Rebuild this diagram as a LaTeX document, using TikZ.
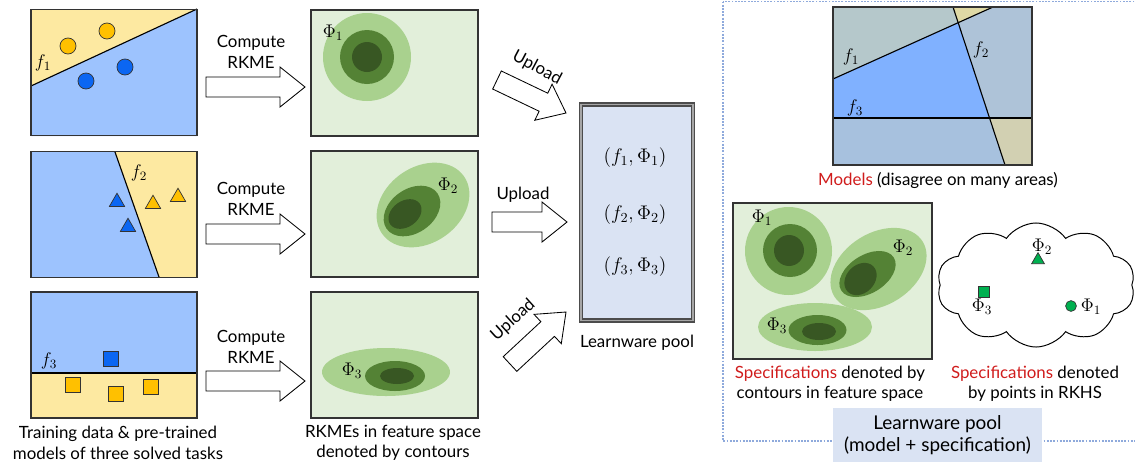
\documentclass[tikz,border=0pt]{standalone}
\usepackage{fix-cm}
\usepackage[no-math]{fontspec}
\setmainfont{Lato}
\usetikzlibrary{calc,shapes.geometric,shapes.symbols}
\definecolor{datayellow}{HTML}{FDE9A1}
\definecolor{datablue}{HTML}{9DC3FE}
\definecolor{ptyellow}{HTML}{FFC000}
\definecolor{ptblue}{HTML}{0B66F2}
\definecolor{ptgreen}{HTML}{00B050}
\definecolor{featbg}{HTML}{E2EFDA}
\definecolor{contlight}{HTML}{A9D18E}
\definecolor{contmid}{HTML}{548235}
\definecolor{contdark}{HTML}{385723}
\definecolor{poolbg}{HTML}{DAE3F3}
\definecolor{specred}{HTML}{D01C1C}
\definecolor{dotblue}{HTML}{8FAADC}
\definecolor{rgA}{HTML}{B5C8CB}
\definecolor{rgB}{HTML}{DFD9A5}
\definecolor{rgC}{HTML}{80B1FF}
\definecolor{rgD}{HTML}{AEC3D8}
\definecolor{rgE}{HTML}{A7C1DE}
\definecolor{rgF}{HTML}{D2D0B2}
\newcommand{\blockarrow}[2]{%
    \coordinate (bh) at ($(#2)!0.625cm!(#1)$);
    \draw[bigarrow] ($(#1)!0.25cm!90:(#2)$) -- ($(bh)!0.25cm!-90:(#1)$)
        -- ($(bh)!0.5cm!-90:(#1)$) -- (#2) -- ($(bh)!0.5cm!90:(#1)$)
        -- ($(bh)!0.25cm!90:(#1)$) -- ($(#1)!0.25cm!-90:(#2)$) -- cycle;}
\begin{document}
\begin{tikzpicture}[x=0.025cm,y=-0.025cm,
        every node/.style={font=\fontsize{12}{14.5}\selectfont},
        mlbl/.style={font=\fontsize{13}{15}\selectfont},
        caption/.style={align=center},
        panel/.style={draw=black!80,line width=0.8pt,minimum width=4.15cm,minimum height=3.15cm,inner sep=0pt},
        featpanel/.style={panel,fill=featbg,minimum width=4.175cm},
        sepline/.style={black,line width=0.8pt},
        dot/.style={circle,draw=black!80,line width=0.5pt,minimum size=0.4cm,inner sep=0pt},
        tri/.style={regular polygon,regular polygon sides=3,draw=black!80,line width=0.5pt,minimum size=0.44cm,inner sep=0pt},
        sq/.style={rectangle,draw=black!80,line width=0.5pt,minimum size=0.36cm,inner sep=0pt},
        bigarrow/.style={draw=black,line width=0.6pt,fill=white,line join=miter}]
    \useasboundingbox (0,0) rectangle (1135,462);
    \draw[dotblue,densely dotted,line width=1.3pt]
        (723,1.5) rectangle (1170,441);
    \fill[datayellow] (31,9) rectangle (197,136);
    \fill[datablue] (31,86) -- (197,9) -- (197,136) -- (31,136) -- cycle;
    \draw[sepline] (31,86) -- (197,9);
    \node[panel] (task1) at (114,72.5) {};
    \node[dot,fill=ptyellow] (y1a) at (68,46) {};
    \node[dot,fill=ptyellow] (y1b) at (107,31) {};
    \node[dot,fill=ptblue] (b1a) at (125,67) {};
    \node[dot,fill=ptblue] (b1b) at (86,81) {};
    \node[mlbl] (f1) at (43,63) {$f_1$};
    \fill[datablue] (31,152) rectangle (197,277);
    \fill[datayellow] (115,152) -- (197,152) -- (197,277) -- (159,277) -- cycle;
    \draw[sepline] (115,152) -- (159,277);
    \node[panel] (task2) at (114,214.5) {};
    \node[tri,fill=ptblue] (b2a) at (117,202) {};
    \node[tri,fill=ptblue] (b2b) at (128,227) {};
    \node[tri,fill=ptyellow] (y2a) at (153,204) {};
    \node[tri,fill=ptyellow] (y2b) at (178,197) {};
    \node[mlbl] (f2) at (139,173) {$f_2$};
    \fill[datablue] (31,292) rectangle (197,373);
    \fill[datayellow] (31,373) rectangle (197,418);
    \draw[sepline] (31,373) -- (197,373);
    \node[panel] (task3) at (114,355) {};
    \node[sq,fill=ptblue] (b3a) at (111,359) {};
    \node[sq,fill=ptyellow] (y3a) at (73,385) {};
    \node[sq,fill=ptyellow] (y3b) at (116,394) {};
    \node[sq,fill=ptyellow] (y3c) at (151,387) {};
    \node[mlbl] (f3) at (49,361) {$f_3$};
    \node[caption] (taskcap) at (118,443) {Training data \& pre-trained\\models of three solved tasks};
    \node[caption] (cmp1) at (251,52) {Compute\\RKME};
    \node[caption] (cmp2) at (251,199) {Compute\\RKME};
    \node[caption] (cmp3) at (251,347) {Compute\\RKME};
    \coordinate (c1s) at (206,87);
    \coordinate (c1e) at (305,87);
    \coordinate (c2s) at (206,234);
    \coordinate (c2e) at (305,234);
    \coordinate (c3s) at (206,381);
    \coordinate (c3e) at (305,381);
    \blockarrow{c1s}{c1e}
    \blockarrow{c2s}{c2e}
    \blockarrow{c3s}{c3e}
    \node[featpanel] (feat1) at (394.5,73) {};
    \fill[contlight] (367,57) circle [radius=44];
    \fill[contmid] (367,57) circle [radius=27];
    \fill[contdark] (367,57) circle [radius=15];
    \node[mlbl] (phi1) at (333,33) {$\Phi_1$};
    \node[featpanel] (feat2) at (394.5,214) {};
    \fill[contlight,rotate around={35:(423,205)}] (423,205) ellipse [x radius=50,y radius=38];
    \fill[contmid,rotate around={35:(412,211)}] (412,211) ellipse [x radius=31,y radius=22];
    \fill[contdark,rotate around={35:(405,214)}] (405,214) ellipse [x radius=18,y radius=13];
    \node[mlbl] (phi2) at (448,186) {$\Phi_2$};
    \node[featpanel] (feat3) at (394.5,355) {};
    \fill[contlight] (386,372) ellipse [x radius=64,y radius=24];
    \fill[contmid] (395,376) ellipse [x radius=30,y radius=15];
    \fill[contdark] (397,376) ellipse [x radius=17,y radius=8];
    \node[mlbl] (phi3) at (352,371) {$\Phi_3$};
    \node[caption] (featcap) at (393,443) {RKMEs in feature space\\denoted by contours};
    \node[draw=black!70,double=black!35,double distance=0.9pt,line width=1.1pt,fill=poolbg,
        minimum width=2.8cm,minimum height=5.4cm] (pool) at (637,212.5) {};
    \node[font=\fontsize{14}{16}\selectfont] (pair1) at (635,158) {$(f_1,\Phi_1)$};
    \node[font=\fontsize{14}{16}\selectfont] (pair2) at (635,215) {$(f_2,\Phi_2)$};
    \node[font=\fontsize{14}{16}\selectfont] (pair3) at (635,267) {$(f_3,\Phi_3)$};
    \node (poolcap) at (637,343) {Learnware pool};
    \coordinate (u1s) at (497,80);
    \coordinate (u1e) at (566,113);
    \coordinate (u2s) at (492,222);
    \coordinate (u2e) at (567,222);
    \coordinate (u3s) at (510,364);
    \coordinate (u3e) at (566,312);
    \blockarrow{u1s}{u1e}
    \blockarrow{u2s}{u2e}
    \blockarrow{u3s}{u3e}
    \node[rotate=-28] (up1) at (537,68) {Upload};
    \node (up2) at (523,195) {Upload};
    \node[rotate=42] (up3) at (513,320) {Upload};
    \fill[rgA] (833,7) -- (953,7) -- (958.2,22.7) -- (833,79) -- cycle;
    \fill[rgB] (953,7) -- (993,7) -- (958.2,22.7) -- cycle;
    \fill[rgC] (833,79) -- (958.2,22.7) -- (989.5,118) -- (833,118) -- cycle;
    \fill[rgD] (993,7) -- (1032,7) -- (1032,118) -- (989.5,118) -- (958.2,22.7) -- cycle;
    \fill[rgE] (833,118) -- (989.5,118) -- (1005,165) -- (833,165) -- cycle;
    \fill[rgF] (989.5,118) -- (1032,118) -- (1032,165) -- (1005,165) -- cycle;
    \draw[sepline] (833,79) -- (993,7);
    \draw[sepline] (953,7) -- (1005,165);
    \draw[sepline] (833,118) -- (1032,118);
    \node[panel,minimum width=4.975cm,minimum height=3.95cm] (models) at (932.5,86) {};
    \node[mlbl] (mf1) at (851,57) {$f_1$};
    \node[mlbl] (mf2) at (981,50) {$f_2$};
    \node[mlbl] (mf3) at (855,108) {$f_3$};
    \node (modelcap) at (938,180) {\textcolor{specred}{Models} (disagree on many areas)};
    \node[featpanel,minimum width=4.975cm,minimum height=3.9cm] (specs) at (832.5,281) {};
    \fill[contlight] (788.5,251) ellipse [x radius=43.5,y radius=44];
    \fill[contmid] (790,250.5) ellipse [x radius=27,y radius=26.5];
    \fill[contdark] (789,250.5) ellipse [x radius=15,y radius=15.5];
    \fill[contlight,rotate around={32:(878.5,269)}] (878.5,269) ellipse [x radius=52,y radius=36];
    \fill[contmid,rotate around={32:(867.5,274)}] (867.5,274) ellipse [x radius=31,y radius=19];
    \fill[contdark,rotate around={45:(860.5,279)}] (860.5,279) ellipse [x radius=18,y radius=14];
    \fill[contlight] (815,327) ellipse [x radius=57,y radius=24];
    \fill[contmid] (817.5,330) ellipse [x radius=29,y radius=15];
    \fill[contdark] (819,331.5) ellipse [x radius=17,y radius=8.5];
    \node[mlbl] (sphi1) at (762,218) {$\Phi_1$};
    \node[mlbl] (sphi2) at (903,248) {$\Phi_2$};
    \node[mlbl] (sphi3) at (777,326) {$\Phi_3$};
    \node[caption] (speccap1) at (830,384) {\textcolor{specred}{Specifications} denoted by\\contours in feature space};
    \node[cloud,draw=black,line width=0.7pt,cloud puffs=10,cloud puff arc=110,aspect=1.6,
        minimum width=4.95cm,minimum height=3.1cm,inner sep=0pt] (rkhs) at (1036,285) {};
    \node[tri,fill=ptgreen,minimum size=0.37cm] (pt2) at (1038,260) {};
    \node[sq,fill=ptgreen,minimum size=0.29cm] (pt3) at (984,292) {};
    \node[dot,fill=ptgreen,minimum size=0.27cm] (pt1) at (1071,306) {};
    \node[mlbl] (kphi2) at (1042,247) {$\Phi_2$};
    \node[mlbl] (kphi3) at (982,307) {$\Phi_3$};
    \node[mlbl] (kphi1) at (1091,307) {$\Phi_1$};
    \node[caption] (speccap2) at (1035,384) {\textcolor{specred}{Specifications} denoted\\by points in RKHS};
    \node[caption,fill=poolbg,minimum width=5.225cm,minimum height=1.35cm,
        font=\fontsize{13.5}{16}\selectfont] (poolkey) at (937.5,435) {Learnware pool\\(model + specification)};
\end{tikzpicture}
\end{document}
